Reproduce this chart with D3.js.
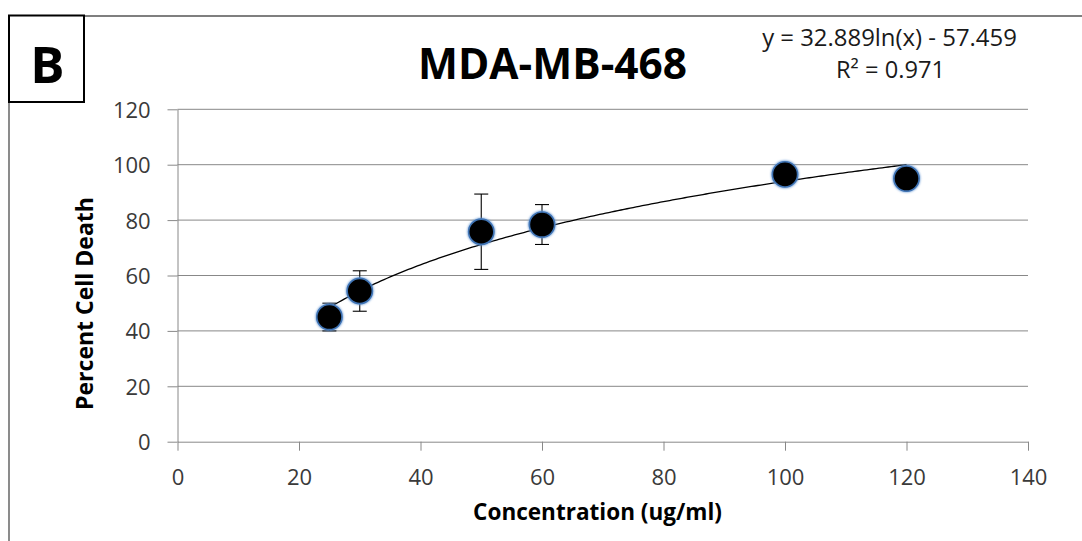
<!DOCTYPE html>
<html>
<head>
<meta charset="utf-8">
<script src="https://cdn.jsdelivr.net/npm/d3@7"></script>
<style>
  html, body { margin: 0; padding: 0; background: #fff; }
  svg { display: block; }
  text { font-family: "Open Sans", "Noto Sans", sans-serif; }
</style>
</head>
<body>
<svg id="chart" width="1082" height="541"></svg>
<script>
// ---- data ----
const concentrations = [25, 30, 50, 60, 100, 120];
const cellDeath      = [45.0, 54.4, 75.8, 78.4, 96.5, 95.0];
const errorValues    = [5.0, 7.3, 13.6, 7.2, 0, 0];
const xTicks = [0, 20, 40, 60, 80, 100, 120, 140];
const yTicks = [0, 20, 40, 60, 80, 100, 120];
const trendCoefA = 32.889;   // y = A ln(x) + B
const trendCoefB = -57.459;
const titleText = "MDA-MB-468";
const equationText = "y = 32.889ln(x) - 57.459";
const r2Text = "R² = 0.971";
const panelLabel = "B";
const xTitle = "Concentration (ug/ml)";
const yTitle = "Percent Cell Death";

const W = 1082, H = 541;
const svg = d3.select("#chart");
const plot = { left: 177.5, right: 1028, top: 109.3, bottom: 441.7 };

const x = d3.scaleLinear().domain([0, 140]).range([plot.left, plot.right]);
const y = d3.scaleLinear().domain([0, 120]).range([plot.bottom, plot.top]);

const gridColor = "#888888";

// fit text width helper
function fitWidth(sel, target) {
  const node = sel.node();
  const fs = parseFloat(sel.attr("font-size"));
  const len = node.getComputedTextLength();
  sel.attr("font-size", fs * target / len);
  return sel;
}

// outer frame (partial, top & left visible)
svg.append("line").attr("x1", 9).attr("x2", W).attr("y1", 16).attr("y2", 16)
  .attr("stroke", "#7f7f7f").attr("stroke-width", 1.8);
svg.append("line").attr("x1", 9).attr("x2", 9).attr("y1", 16).attr("y2", H)
  .attr("stroke", "#7f7f7f").attr("stroke-width", 1.8);

// gridlines
svg.append("g").selectAll("line").data(yTicks.filter(d => d > 0)).join("line")
  .attr("x1", plot.left).attr("x2", plot.right)
  .attr("y1", d => y(d)).attr("y2", d => y(d))
  .attr("stroke", gridColor).attr("stroke-width", 1);

// y axis
const yAxis = svg.append("g").attr("transform", `translate(${plot.left},0)`)
  .call(d3.axisLeft(y).tickValues(yTicks).tickSize(10).tickSizeOuter(0).tickPadding(17));
// x axis
const xAxis = svg.append("g").attr("transform", `translate(0,${plot.bottom})`)
  .call(d3.axisBottom(x).tickValues(xTicks).tickSize(9).tickSizeOuter(0).tickPadding(17));

[yAxis, xAxis].forEach(g => {
  g.select(".domain").attr("stroke", gridColor).attr("stroke-width", 1);
  g.selectAll(".tick line").attr("stroke", gridColor).attr("stroke-width", 1);
  g.selectAll(".tick text").attr("font-size", 22).attr("fill", "#3a3a3a")
    .attr("font-family", "'Open Sans', sans-serif");
});
xAxis.selectAll(".tick text").attr("dy", null).attr("dominant-baseline", "alphabetic")
  .attr("y", 485 - plot.bottom);
yAxis.selectAll(".tick text").attr("dy", "0.36em").attr("x", -26.8);

// error bars
const capHalf = 7;
const eb = svg.append("g").attr("stroke", "#000").attr("stroke-width", 1.1);
const pts = concentrations.map((c, i) => ({ c, v: cellDeath[i], e: errorValues[i] }));
pts.filter(d => d.e > 0).forEach(d => {
  eb.append("line").attr("x1", x(d.c)).attr("x2", x(d.c)).attr("y1", y(d.v - d.e)).attr("y2", y(d.v + d.e));
  eb.append("line").attr("x1", x(d.c) - capHalf).attr("x2", x(d.c) + capHalf).attr("y1", y(d.v + d.e)).attr("y2", y(d.v + d.e));
  eb.append("line").attr("x1", x(d.c) - capHalf).attr("x2", x(d.c) + capHalf).attr("y1", y(d.v - d.e)).attr("y2", y(d.v - d.e));
});

// trendline
const trendX = d3.range(25, 120.01, 0.5);
const line = d3.line().x(d => x(d)).y(d => y(trendCoefA * Math.log(d) + trendCoefB));
svg.append("path").datum(trendX).attr("d", line)
  .attr("fill", "none").attr("stroke", "#000").attr("stroke-width", 1.3);

// marker glow filter
const defs = svg.append("defs");
defs.append("filter").attr("id", "glow").attr("x", "-50%").attr("y", "-50%").attr("width", "200%").attr("height", "200%")
  .append("feGaussianBlur").attr("stdDeviation", 1.2);

const mk = svg.append("g");
mk.selectAll("circle.g").data(pts).join("circle").attr("class", "g")
  .attr("cx", d => x(d.c)).attr("cy", d => y(d.v)).attr("r", 13.8)
  .attr("fill", "#6b9bd6").attr("filter", "url(#glow)");
mk.selectAll("circle.m").data(pts).join("circle").attr("class", "m")
  .attr("cx", d => x(d.c)).attr("cy", d => y(d.v)).attr("r", 12.6)
  .attr("fill", "#000").attr("stroke", "#3f73b4").attr("stroke-width", 1.6);

// title
const t = svg.append("text").attr("x", 552.5).attr("y", 79).attr("text-anchor", "middle")
  .attr("font-weight", 700).attr("font-size", 40).attr("fill", "#000").text(titleText);
fitWidth(t, 269);

// equation
const e1 = svg.append("text").attr("x", 889.5).attr("y", 46).attr("text-anchor", "middle")
  .attr("font-size", 20).attr("fill", "#1a1a1a").text(equationText);
fitWidth(e1, 255);
const e2 = svg.append("text").attr("x", 890.5).attr("y", 77.5).attr("text-anchor", "middle")
  .attr("font-size", 20).attr("fill", "#1a1a1a").text(r2Text);
fitWidth(e2, 109);

// axis titles
const xt = svg.append("text").attr("x", 597.5).attr("y", 520).attr("text-anchor", "middle")
  .attr("font-weight", 700).attr("font-size", 18).attr("fill", "#000").text(xTitle);
fitWidth(xt, 249);
const yt = svg.append("text").attr("transform", "translate(92.5,303.5) rotate(-90)")
  .attr("text-anchor", "middle").attr("font-weight", 700).attr("font-size", 18).attr("fill", "#000").text(yTitle);
fitWidth(yt, 213);

// panel label box
svg.append("rect").attr("x", 9).attr("y", 15.5).attr("width", 75).attr("height", 86.5)
  .attr("fill", "#fff").attr("stroke", "#000").attr("stroke-width", 2);
svg.append("text").attr("x", 47.5).attr("y", 83.3).attr("text-anchor", "middle")
  .attr("font-weight", 700).attr("font-size", 51).attr("fill", "#000").text(panelLabel);
</script>
</body>
</html>
